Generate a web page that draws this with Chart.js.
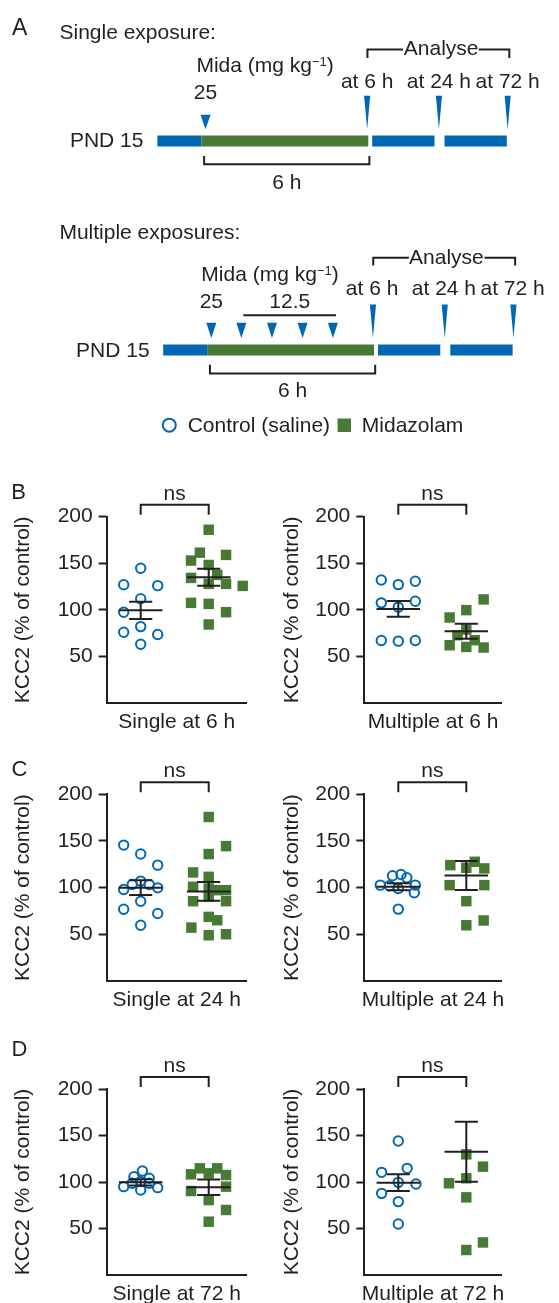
<!DOCTYPE html>
<html>
<head>
<meta charset="utf-8">
<script src="https://cdn.jsdelivr.net/npm/chart.js@4.4.1/dist/chart.umd.min.js"></script>
<style>
html,body{margin:0;padding:0;width:559px;height:1303px;overflow:hidden;background:#fff}
canvas{position:absolute}
.lt{position:absolute;font-family:'Liberation Sans',Arial,sans-serif;color:#231f20;line-height:1}
</style>
</head>
<body>
<script>
// ---- panel A schematic (x in hours of the 6 h exposure)
const segStarts = [-1.58, 0, 6.14, 8.74];
const segEnds = [0, 6, 8.38, 10.98];
const segMida = [false, true, false, false];
const analyseAt = [5.96, 8.54, 11.01];
const analyseLabels = ['at 6 h', 'at 24 h', 'at 72 h'];
const singleDoses = [0.15];
const multiDoses = [0.15, 1.23, 2.33, 3.43, 4.52];
const doseMg = ['25', '12.5'];
const groups = ['Control (saline)', 'Midazolam'];

// ---- KCC2 (% of control) panels
const kccTicks = [50, 100, 150, 200];

const s6Ctrl = [144.6, 127, 126, 112, 97.5, 82, 76, 73.6, 63];
const s6CtrlJit = [0, -0.5, 0.5, 0, -0.5, 0, -0.5, 0.5, 0];
const s6Mida = [186, 161.4, 159, 152.9, 148.2, 137.5, 134.3, 127.9, 127.9, 125.7, 107.5, 106.4, 97.5, 84.3];
const s6MidaJit = [0, -0.26, 0.51, -0.52, 0, 0.25, -0.52, 0, 0.51, 1.0, -0.52, 0, 0.51, 0];
const s6Mean = [99.5, 135];
const s6Sem = [9.2, 9];

const m6Ctrl = [132.1, 127.1, 130.7, 107.5, 109.3, 102.9, 67.1, 66.4, 67.1];
const m6CtrlJit = [-0.5, 0, 0.5, -0.5, 0.5, 0, -0.5, 0, 0.5];
const m6Mida = [111.2, 99.7, 91.8, 78.9, 72.8, 67.4, 62, 60.2, 59.6];
const m6MidaJit = [0.51, 0, -0.49, 0, -0.26, 0.25, -0.49, 0, 0.51];
const m6Mean = [101, 77];
const m6Sem = [8.5, 8];

const s24Ctrl = [145.6, 136, 124.1, 107, 103.4, 103.4, 98, 99.8, 85.5, 76.9, 72.3, 59.7];
const s24CtrlJit = [-0.5, 0, 0.5, 0, -0.25, 0.25, -0.5, 0.5, 0, -0.5, 0.5, 0];
const s24Mida = [175.7, 144.5, 136, 116.3, 111.6, 100.9, 99.1, 97.3, 97.3, 85.5, 90.2, 85.5, 68.7, 65.1, 57.2, 49, 50.1];
const s24MidaJit = [0, 0.51, 0, -0.46, 0, -0.46, 0, 0.25, 0.51, -0.46, 0, 0.51, 0, 0.25, -0.51, 0, 0.51];
const s24Mean = [100, 96];
const s24Sem = [8, 10];

const m24Ctrl = [102.7, 112.7, 114.1, 110.6, 102.7, 94.5, 102, 99.1, 77];
const m24CtrlJit = [-0.53, -0.17, 0.08, 0.25, 0.5, 0.47, -0.26, 0, 0];
const m24Mida = [124.1, 127.7, 121.3, 120.6, 102.7, 102.7, 85.5, 64.8, 59.7];
const m24MidaJit = [-0.47, 0.25, 0, 0.53, -0.49, 0.53, 0, 0.51, 0];
const m24Mean = [101, 113];
const m24Sem = [3.8, 15.5];

const s72Ctrl = [95, 91.4, 93.9, 105.7, 111.8, 98.6, 100.4, 98.6, 104];
const s72CtrlJit = [-0.5, 0, 0.5, -0.2, 0.05, 0.25, 0, -0.25, 0.25];
const s72Mida = [108.2, 114.7, 114.7, 107.5, 109.3, 95, 90.3, 80.6, 69.9, 57.3];
const s72MidaJit = [-0.52, -0.26, 0.25, 0.51, 0, 0.51, -0.52, 0, 0.51, 0];
const s72Mean = [99.6, 94.3];
const s72Sem = [3.3, 8.4];

const m72Ctrl = [144.1, 110.4, 114.7, 99.6, 97.8, 87.8, 78.9, 54.8];
const m72CtrlJit = [0, -0.49, 0.26, 0, 0.52, -0.49, 0, 0];
const m72Mida = [129.7, 116.5, 98.6, 104, 83.5, 35, 26.9];
const m72MidaJit = [0, 0.49, -0.51, 0, 0, 0.49, 0];
const m72Mean = [99.3, 132.6];
const m72Sem = [9, 32.3];

const BLUE = '#0068b3', GREEN = '#477a34', INK = '#231f20';
const FONT = "'Liberation Sans', Arial, sans-serif";
Chart.defaults.font.family = FONT;
Chart.defaults.font.size = 21;
Chart.defaults.color = INK;

function mk(l, t, w, h) {
    const cv = document.createElement('canvas');
    cv.width = w; cv.height = h;
    cv.style.cssText = `left:${l}px;top:${t}px;width:${w}px;height:${h}px`;
    document.body.appendChild(cv);
    return cv;
}
function letter(t, l, top, size) {
    const d = document.createElement('div');
    d.className = 'lt';
    d.textContent = t;
    d.style.cssText = `left:${l}px;top:${top}px;font-size:${size}px`;
    document.body.appendChild(d);
}

// ---------- panel A ----------
const U = 28.8;
const originS = 198.6, originM = 204.6;
const rowS = {title: 31.3, analyse: 41.7, analyseLeg: 50.7, analyseText: 47.5, mida: 65.7, at: 81.7, dose: 93.3,
    needleTop: 90, triTop: 110, tip: 125, bar: 137.2, pnd: 144, bracket: 161.7, bracketLeg: 153, sixh: 187};
const rowM = {title: 240, analyse: 259.3, analyseLeg: 267.3, analyseText: 266, mida: 283.3, at: 298.3, dose: 311.7,
    doseLine: 319.3, needleTop: 308, triTop: 327, tip: 343, bar: 355.4, pnd: 363.3, bracket: 380, bracketLeg: 371,
    sixh: 405, legend: 434, legendText: 441.5};

function lineSet(ax, pts, color, w) {
    return {xAxisID: ax, data: pts.map(p => ({x: p[0], y: p[1]})), showLine: true, borderColor: color,
        borderWidth: w, borderCapStyle: 'butt', pointRadius: 0, clip: false};
}
function polySet(ax, pts, color) {
    return {xAxisID: ax, data: pts.map(p => ({x: p[0], y: p[1]})), showLine: true, fill: 'shape',
        backgroundColor: color, borderColor: 'rgba(0,0,0,0)', borderWidth: 1, pointRadius: 0, clip: false};
}
function timelineSets(ax, r, doses) {
    let sets = [];
    segStarts.forEach((s, i) => sets.push(lineSet(ax, [[s, r.bar], [segEnds[i], r.bar]], segMida[i] ? GREEN : BLUE, 11)));
    analyseAt.forEach(x => sets.push(polySet(ax, [[x - 0.11, r.needleTop], [x + 0.11, r.needleTop], [x, r.tip]], BLUE)));
    doses.forEach(x => sets.push(polySet(ax, [[x - 0.18, r.triTop], [x + 0.18, r.triTop], [x, r.tip]], BLUE)));
    sets.push(lineSet(ax, [[0.1, r.bracketLeg], [0.1, r.bracket], [6.04, r.bracket], [6.04, r.bracketLeg]], INK, 2));
    sets.push(lineSet(ax, [[5.97, r.analyseLeg], [5.97, r.analyse], [7.25, r.analyse]], INK, 2));
    sets.push(lineSet(ax, [[9.97, r.analyse], [11.07, r.analyse], [11.07, r.analyseLeg]], INK, 2));
    return sets;
}

const midaLabel = [{t: 'Mida (mg kg'}, {t: '\u22121', sup: true}, {t: ')'}];
let schemaText = [
    ['xs', -5.10, rowS.title, 'Single exposure:', 'left'],
    ['xs', 8.62, rowS.analyseText, 'Analyse', 'center'],
    ['xs', 2.29, rowS.mida, midaLabel, 'center'],
    ['xs', singleDoses[0], rowS.dose, doseMg[0], 'center'],
    ['xs', -2.08, rowS.pnd, 'PND 15', 'right'],
    ['xs', 3.07, rowS.sixh, '6 h', 'center'],
    ['xm', -5.31, rowM.title, 'Multiple exposures:', 'left'],
    ['xm', 8.6, rowM.analyseText, 'Analyse', 'center'],
    ['xm', 2.26, rowM.mida, midaLabel, 'center'],
    ['xm', multiDoses[0], rowM.dose, doseMg[0], 'center'],
    ['xm', 2.97, rowM.dose, doseMg[1], 'center'],
    ['xm', -2.07, rowM.pnd, 'PND 15', 'right'],
    ['xm', 3.07, rowM.sixh, '6 h', 'center'],
    ['xm', -0.70, rowM.legendText, groups[0], 'left'],
    ['xm', 5.56, rowM.legendText, groups[1], 'left']
];
analyseLabels.forEach((t, i) => {
    schemaText.push(['xs', analyseAt[i], rowS.at, t, 'center']);
    schemaText.push(['xm', analyseAt[i] - 0.03, rowM.at, t, 'center']);
});

function drawRich(ctx, parts, x, y, align) {
    const fonts = parts.map(p => p.sup ? `13px ${FONT}` : `21px ${FONT}`);
    const widths = parts.map((p, i) => { ctx.font = fonts[i]; return ctx.measureText(p.t).width; });
    const total = widths.reduce((a, b) => a + b, 0);
    let cx = align === 'center' ? x - total / 2 : align === 'right' ? x - total : x;
    ctx.textAlign = 'left';
    parts.forEach((p, i) => {
        ctx.font = fonts[i];
        ctx.fillText(p.t, cx, p.sup ? y - 6 : y);
        cx += widths[i];
    });
}

const schemaTextPlugin = {
    id: 'schemaText',
    afterDatasetsDraw(ch) {
        const ctx = ch.ctx, y = ch.scales.y;
        ctx.save();
        ctx.fillStyle = INK;
        ctx.textBaseline = 'alphabetic';
        schemaText.forEach(([ax, x, yy, t, align]) => {
            const px = ch.scales[ax].getPixelForValue(x), py = y.getPixelForValue(yy);
            if (Array.isArray(t)) drawRich(ctx, t, px, py, align);
            else { ctx.font = `21px ${FONT}`; ctx.textAlign = align; ctx.fillText(t, px, py); }
        });
        ctx.restore();
    }
};

let schemaSets = [...timelineSets('xs', rowS, singleDoses), ...timelineSets('xm', rowM, multiDoses)];
schemaSets.push(lineSet('xm', [[1.30, rowM.doseLine], [4.63, rowM.doseLine]], INK, 2));
schemaSets.push({xAxisID: 'xm', data: [{x: -1.36, y: rowM.legend}], pointStyle: 'circle', pointRadius: 6.5,
    borderWidth: 2, borderColor: BLUE, backgroundColor: 'rgba(0,0,0,0)'});
schemaSets.push({xAxisID: 'xm', data: [{x: 4.93, y: rowM.legend}], pointStyle: 'rect', pointRadius: 9.5,
    borderWidth: 0, backgroundColor: GREEN});

new Chart(mk(0, 0, 559, 450), {
    type: 'scatter',
    data: {datasets: schemaSets},
    options: {
        responsive: false, animation: false, events: [], devicePixelRatio: 1,
        layout: {padding: 0},
        plugins: {legend: {display: false}, tooltip: {enabled: false}},
        scales: {
            xs: {axis: 'x', type: 'linear', display: false, min: -originS / U, max: (559 - originS) / U},
            xm: {axis: 'x', type: 'linear', display: false, min: -originM / U, max: (559 - originM) / U},
            y: {type: 'linear', display: false, min: 0, max: 450, reverse: true}
        }
    },
    plugins: [schemaTextPlugin]
});

// ---------- panels B-D ----------
const panels = [
    {title: 'Single at 6 h', ctrl: s6Ctrl, cj: s6CtrlJit, mida: s6Mida, mj: s6MidaJit, mean: s6Mean, sem: s6Sem, col: 0, row: 0},
    {title: 'Multiple at 6 h', ctrl: m6Ctrl, cj: m6CtrlJit, mida: m6Mida, mj: m6MidaJit, mean: m6Mean, sem: m6Sem, col: 1, row: 0},
    {title: 'Single at 24 h', ctrl: s24Ctrl, cj: s24CtrlJit, mida: s24Mida, mj: s24MidaJit, mean: s24Mean, sem: s24Sem, col: 0, row: 1},
    {title: 'Multiple at 24 h', ctrl: m24Ctrl, cj: m24CtrlJit, mida: m24Mida, mj: m24MidaJit, mean: m24Mean, sem: m24Sem, col: 1, row: 1},
    {title: 'Single at 72 h', ctrl: s72Ctrl, cj: s72CtrlJit, mida: s72Mida, mj: s72MidaJit, mean: s72Mean, sem: s72Sem, col: 0, row: 2},
    {title: 'Multiple at 72 h', ctrl: m72Ctrl, cj: m72CtrlJit, mida: m72Mida, mj: m72MidaJit, mean: m72Mean, sem: m72Sem, col: 1, row: 2}
];
const cols = [{L: 0, W: 270, axisX: 106.7, rightX: 246.7, yTitleX: 23.3},
              {L: 270, W: 289, axisX: 364.3, rightX: 501.7, yTitleX: 292.5}];
const rows = [{T: 478, top: 516.7, bottom: 702.7},
              {T: 756, top: 794.3, bottom: 980.7},
              {T: 1050, top: 1089, bottom: 1275}];

const panelText = {
    id: 'panelText',
    afterDatasetsDraw(ch, args, opts) {
        const {ctx, chartArea: a, scales: {x, y}} = ch;
        ctx.save();
        ctx.fillStyle = INK;
        ctx.font = `21px ${FONT}`;
        ctx.textAlign = 'center';
        ctx.textBaseline = 'alphabetic';
        ctx.fillText(opts.sig, x.getPixelForValue(2), y.getPixelForValue(218));
        ctx.fillText(opts.xTitle, (a.left + a.right) / 2, a.bottom + 24.5);
        ctx.translate(opts.yTitleX, (a.top + a.bottom) / 2);
        ctx.rotate(-Math.PI / 2);
        ctx.textBaseline = 'middle';
        ctx.fillText('KCC2 (% of control)', 0, 0);
        ctx.restore();
    }
};

function drawPanel(p) {
    const c = cols[p.col], r = rows[p.row];
    const H = Math.round(r.bottom + 32 - r.T);
    const cv = mk(c.L, r.T, c.W, H);
    const err = [];
    [1, 3].forEach((gx, i) => {
        const m = p.mean[i], s = p.sem[i];
        err.push({x: gx - 0.64, y: m}, {x: gx + 0.64, y: m}, {x: gx, y: null},
                 {x: gx, y: m - s}, {x: gx, y: m + s}, {x: gx, y: null},
                 {x: gx - 0.34, y: m + s}, {x: gx + 0.34, y: m + s}, {x: gx, y: null},
                 {x: gx - 0.34, y: m - s}, {x: gx + 0.34, y: m - s}, {x: gx, y: null});
    });
    new Chart(cv, {
        type: 'scatter',
        data: {datasets: [
            {data: err, showLine: true, spanGaps: false, borderColor: INK, borderWidth: 2, pointRadius: 0, clip: false},
            {data: [{x: 1, y: 202.2}, {x: 1, y: 212.9}, {x: 3, y: 212.9}, {x: 3, y: 202.2}], showLine: true,
                borderColor: INK, borderWidth: 2, pointRadius: 0, clip: false},
            {label: groups[0], data: p.ctrl.map((v, i) => ({x: 1 + p.cj[i], y: v})), pointStyle: 'circle',
                pointRadius: 4.7, borderWidth: 2, borderColor: BLUE, backgroundColor: 'rgba(255,255,255,0)', clip: false},
            {label: groups[1], data: p.mida.map((v, i) => ({x: 3 + p.mj[i], y: v})), pointStyle: 'rect',
                pointRadius: 7.4, borderWidth: 0, backgroundColor: GREEN, clip: false}
        ]},
        options: {
            responsive: false, animation: false, events: [], devicePixelRatio: 1,
            layout: {padding: {left: 0, top: r.top - r.T, right: c.L + c.W - c.rightX, bottom: 0}},
            plugins: {legend: {display: false}, tooltip: {enabled: false},
                panelText: {sig: 'ns', xTitle: p.title, yTitleX: c.yTitleX - c.L}},
            scales: {
                x: {type: 'linear', min: 0, max: (c.rightX - c.axisX) / 34,
                    grid: {display: false}, ticks: {display: false},
                    border: {display: true, color: INK, width: 2},
                    afterFit: s => { s.height = 32; }},
                y: {type: 'linear', min: 0, max: 200,
                    afterBuildTicks: s => { s.ticks = kccTicks.map(v => ({value: v})); },
                    grid: {display: true, drawOnChartArea: false, drawTicks: true, tickLength: 8, tickWidth: 2, tickColor: INK},
                    border: {display: true, color: INK, width: 2},
                    ticks: {font: {size: 21}, color: INK, padding: 6},
                    afterFit: s => { s.width = c.axisX - c.L; }}
            }
        },
        plugins: [panelText]
    });
}
panels.forEach(drawPanel);

letter('A', 12, 15.5, 23);
letter('B', 11.3, 481.4, 22);
letter('C', 11.5, 758.4, 22);
letter('D', 11.5, 1038, 22);
</script>
</body>
</html>
